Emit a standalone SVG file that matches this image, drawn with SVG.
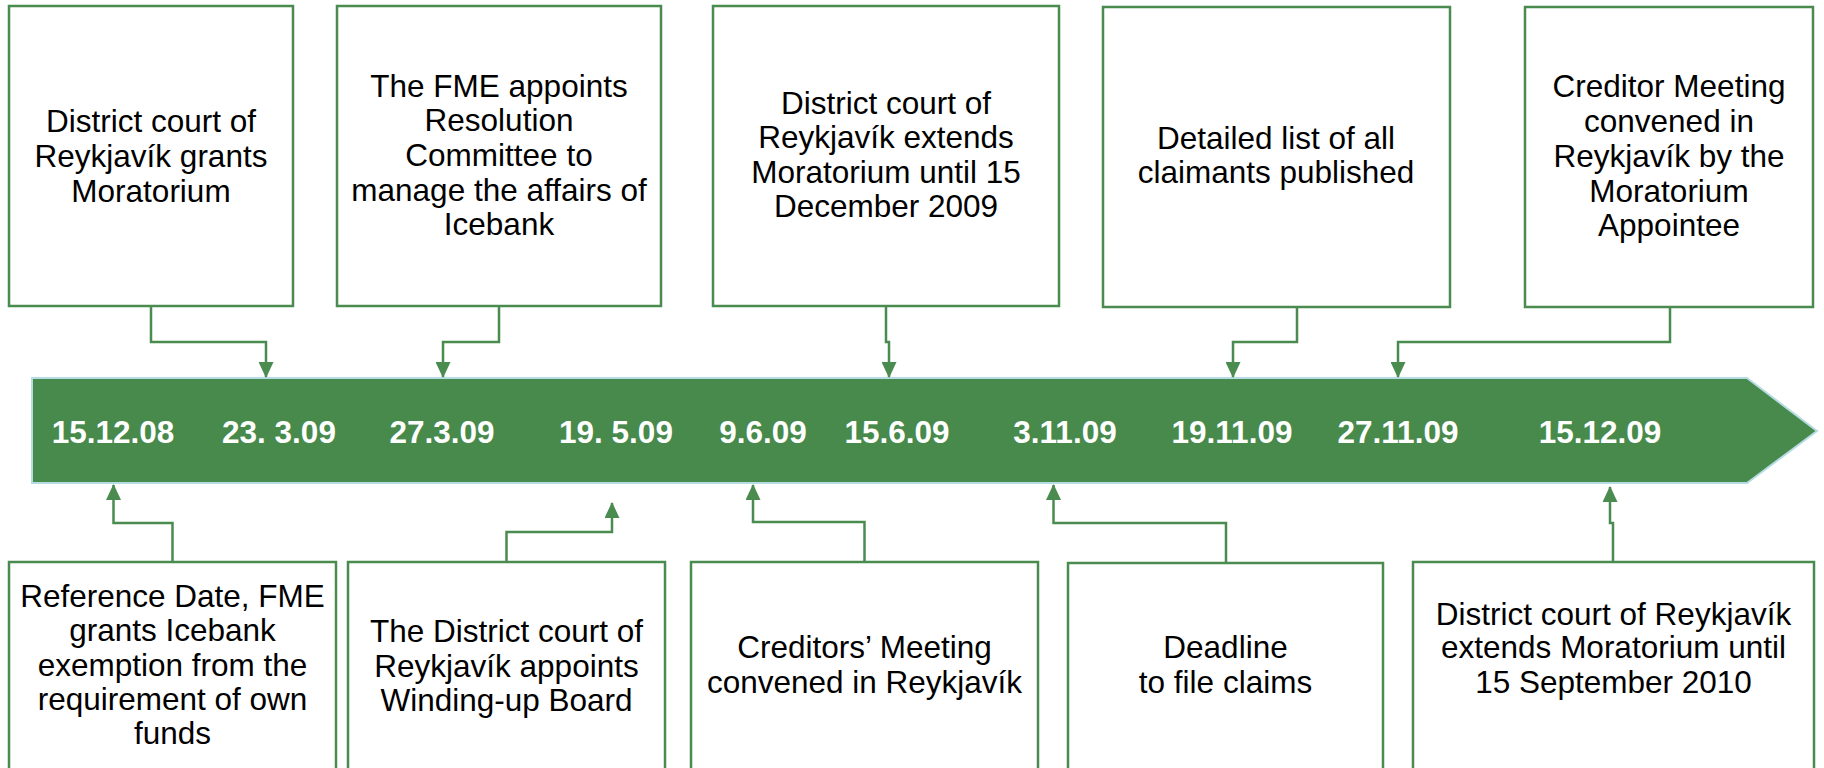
<svg xmlns="http://www.w3.org/2000/svg" width="1824" height="768" viewBox="0 0 1824 768">
<defs>
<style>
.box{fill:#ffffff;stroke:#4a8c4f;stroke-width:2.5}
.t{font-family:"Liberation Sans",Arial,sans-serif;font-size:31.5px;fill:#000000;text-anchor:middle}
.d{font-family:"Liberation Sans",Arial,sans-serif;font-size:31.5px;font-weight:bold;fill:#ffffff;text-anchor:middle}
.c{fill:none;stroke:#4a8c4f;stroke-width:2.5}
</style>
<marker id="ah" viewBox="0 0 16 15" refX="15" refY="7.5" markerWidth="16" markerHeight="15" orient="auto" markerUnits="userSpaceOnUse">
<path d="M0,0 L16,7.5 L0,15 Z" fill="#4a8c4f"/>
</marker>
</defs>
<rect width="1824" height="768" fill="#ffffff"/>

<g id="timeline">
<polygon points="32,378 1747,378 1817,431 1747,483 32,483" fill="#478a4c" stroke="#b5dbe3" stroke-width="2"/>
<text class="d" x="113" y="443">15.12.08</text>
<text class="d" x="279" y="443">23. 3.09</text>
<text class="d" x="442" y="443">27.3.09</text>
<text class="d" x="616" y="443">19. 5.09</text>
<text class="d" x="763" y="443">9.6.09</text>
<text class="d" x="897" y="443">15.6.09</text>
<text class="d" x="1065" y="443">3.11.09</text>
<text class="d" x="1232" y="443">19.11.09</text>
<text class="d" x="1398" y="443">27.11.09</text>
<text class="d" x="1600" y="443">15.12.09</text>
</g>

<g id="top1">
<rect class="box" x="9" y="6" width="284" height="300"/>
<text class="t" x="151" y="132">District court of</text>
<text class="t" x="151" y="167">Reykjavík grants</text>
<text class="t" x="151" y="202">Moratorium</text>
</g>
<g id="top2">
<rect class="box" x="337" y="6" width="324" height="300"/>
<text class="t" x="499" y="97">The FME appoints</text>
<text class="t" x="499" y="131">Resolution</text>
<text class="t" x="499" y="166">Committee to</text>
<text class="t" x="499" y="201">manage the affairs of</text>
<text class="t" x="499" y="235">Icebank</text>
</g>
<g id="top3">
<rect class="box" x="713" y="6" width="346" height="300"/>
<text class="t" x="886" y="114">District court of</text>
<text class="t" x="886" y="148">Reykjavík extends</text>
<text class="t" x="886" y="183">Moratorium until 15</text>
<text class="t" x="886" y="217">December 2009</text>
</g>
<g id="top4">
<rect class="box" x="1103" y="7" width="347" height="300"/>
<text class="t" x="1276" y="149">Detailed list of all</text>
<text class="t" x="1276" y="183">claimants published</text>
</g>
<g id="top5">
<rect class="box" x="1525" y="7" width="288" height="300"/>
<text class="t" x="1669" y="97">Creditor Meeting</text>
<text class="t" x="1669" y="132">convened in</text>
<text class="t" x="1669" y="167">Reykjavík by the</text>
<text class="t" x="1669" y="202">Moratorium</text>
<text class="t" x="1669" y="236">Appointee</text>
</g>

<g id="bot1">
<rect class="box" x="9" y="562" width="327" height="220"/>
<text class="t" x="172.5" y="607">Reference Date, FME</text>
<text class="t" x="172.5" y="641">grants Icebank</text>
<text class="t" x="172.5" y="676">exemption from the</text>
<text class="t" x="172.5" y="710">requirement of own</text>
<text class="t" x="172.5" y="744">funds</text>
</g>
<g id="bot2">
<rect class="box" x="348" y="562" width="317" height="220"/>
<text class="t" x="506.5" y="642">The District court of</text>
<text class="t" x="506.5" y="677">Reykjavík appoints</text>
<text class="t" x="506.5" y="711">Winding-up Board</text>
</g>
<g id="bot3">
<rect class="box" x="691" y="562" width="347" height="220"/>
<text class="t" x="864.5" y="658">Creditors’ Meeting</text>
<text class="t" x="864.5" y="693">convened in Reykjavík</text>
</g>
<g id="bot4">
<rect class="box" x="1068" y="563" width="315" height="220"/>
<text class="t" x="1225.5" y="658">Deadline</text>
<text class="t" x="1225.5" y="693">to file claims</text>
</g>
<g id="bot5">
<rect class="box" x="1413" y="562" width="401" height="220"/>
<text class="t" x="1613.5" y="625">District court of Reykjavík</text>
<text class="t" x="1613.5" y="658">extends Moratorium until</text>
<text class="t" x="1613.5" y="693">15 September 2010</text>
</g>

<g id="connectors">
<polyline class="c" marker-end="url(#ah)" points="151,306 151,342 266,342 266,377"/>
<polyline class="c" marker-end="url(#ah)" points="499,306 499,342 443,342 443,377"/>
<polyline class="c" marker-end="url(#ah)" points="886,306 886,342 889,342 889,377"/>
<polyline class="c" marker-end="url(#ah)" points="1297,307 1297,342 1233,342 1233,377"/>
<polyline class="c" marker-end="url(#ah)" points="1670,307 1670,342 1398,342 1398,377"/>
<polyline class="c" marker-end="url(#ah)" points="172.5,562 172.5,523 113.5,523 113.5,485"/>
<polyline class="c" marker-end="url(#ah)" points="506.5,562 506.5,532 612,532 612,503"/>
<polyline class="c" marker-end="url(#ah)" points="864.5,562 864.5,522 753,522 753,485"/>
<polyline class="c" marker-end="url(#ah)" points="1226,563 1226,523 1053.5,523 1053.5,485"/>
<polyline class="c" marker-end="url(#ah)" points="1613,562 1613,523 1610,523 1610,487"/>
</g>
</svg>
